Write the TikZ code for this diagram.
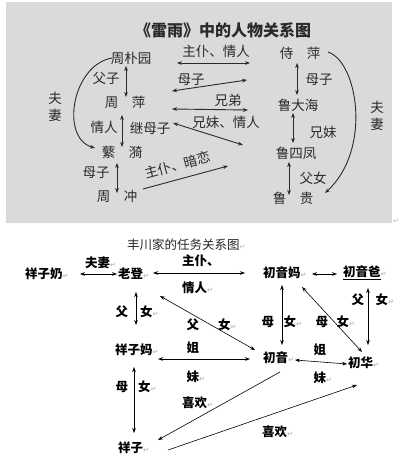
\documentclass[tikz,border=0pt]{standalone}
\usepackage{fontspec}
\setmainfont{Noto Sans CJK SC}
\newfontfamily\djv{DejaVu Sans}
\usetikzlibrary{arrows.meta,calc}
\definecolor{ink}{HTML}{2A2A2A}
\definecolor{panel}{HTML}{DADADA}
\newcommand{\retm}{{\djv\fontsize{7}{7}\selectfont\color{gray!55}↵}}
\begin{document}
\begin{tikzpicture}[x=1pt,y=-1pt,
  tnode/.style={font=\fontsize{13.5}{17}\selectfont, text=ink, inner sep=0pt, align=center},
  ttitle/.style={font=\fontsize{16}{16}\selectfont\bfseries, text=ink, inner sep=0pt},
  tarr/.style={draw=ink, line width=0.9pt, {Stealth[length=5pt,width=3.8pt]}-{Stealth[length=5pt,width=3.8pt]}},
  tarrone/.style={draw=ink, line width=0.9pt, -{Stealth[length=5pt,width=3.8pt]}},
  bnode/.style={font=\fontsize{12.5}{13}\selectfont\bfseries, anchor=west, inner sep=0pt, text=black},
  btitle/.style={font=\fontsize{12.5}{13}\selectfont, anchor=west, inner sep=0pt, text=black!85},
  barr/.style={draw=black, line width=0.6pt, {Stealth[length=5pt,width=3.6pt]}-{Stealth[length=5pt,width=3.6pt]}},
  barrone/.style={draw=black, line width=0.6pt, -{Stealth[length=5pt,width=3.6pt]}}
]
\useasboundingbox (0,0) rectangle (400,473);
\fill[white] (0,0) rectangle (400,473);
\fill[panel] (6,2) rectangle (392,223);
\node[inner sep=0pt] (endmark) at (396,221) {\retm};

% ---------- top panel ----------
\node[ttitle] (title) at (223,30) {《雷雨》中的人物关系图};
\node[tnode] (zpy) at (131,58) {周朴园};
\node[tnode] (zp) at (125,102) {周\hspace{1em}萍};
\node[tnode] (fy) at (122,152) {蘩\hspace{1em}漪};
\node[tnode] (zc) at (117,196) {周\hspace{1em}冲};
\node[tnode] (sp) at (300,53) {侍\hspace{1em}萍};
\node[tnode] (ldh) at (298,105) {鲁大海};
\node[tnode] (lsf) at (296,153) {鲁四凤};
\node[tnode] (lg) at (293,198) {鲁\hspace{1em}贵};

\node[tnode] (l1) at (216,51) {主仆、情人};
\node[tnode] (l2) at (191,80) {母子};
\node[tnode] (l3) at (228,100) {兄弟};
\node[tnode] (l4) at (226,122) {兄妹、情人};
\node[tnode, rotate=15] (l5) at (178,165) {主仆、暗恋};
\node[tnode] (l6) at (106,78) {父子};
\node[tnode] (l7) at (104,127) {情人};
\node[tnode] (l8) at (150,128) {继母子};
\node[tnode] (l9) at (96,173) {母子};
\node[tnode] (l10) at (55,107) {夫\\妻};
\node[tnode] (l11) at (319,80) {母子};
\node[tnode] (l12) at (323,132) {兄妹};
\node[tnode] (l13) at (313,178) {父女};
\node[tnode] (l14) at (377,116) {夫\\妻};

\draw[tarr] ($(zpy)+(46,5)$) -- ($(sp)+(-50,10)$);
\draw[tarr] ($(zp)+(47,-11)$) -- ($(sp)+(-53,27)$);
\draw[tarr] ($(zp)+(47,7)$) -- ($(ldh)+(-50,5)$);
\draw[tarr] ($(zp)+(48,21)$) -- ($(lsf)+(-53,-8)$);
\draw[tarrone] ($(zc)+(26,-7)$) -- ($(lsf)+(-68,13)$);
\draw[tarr] ($(zpy)+(-5,8)$) -- ($(zp)+(1,-5)$);
\draw[tarr] ($(zp)+(-3,13)$) -- ($(fy)+(0,-5)$);
\draw[tarr] ($(fy)+(-5,11)$) -- ($(zc)+(0,-3)$);
\draw[tarr] ($(sp)+(-3,10)$) -- ($(ldh)+(-1,-10)$);
\draw[tarr] ($(ldh)+(-5,8)$) -- ($(lsf)+(-3,-10)$);
\draw[tarr] ($(lsf)+(-7,9)$) -- ($(lg)+(-4,-3)$);
\draw[tarrone] ($(zpy)+(-19,0)$) .. controls (72,65) and (60,138) .. ($(fy)+(-27,-4)$);
\draw[tarrone] ($(sp)+(28,-1)$) .. controls (358,62) and (372,150) .. ($(lg)+(32,-5)$);

% ---------- bottom diagram ----------
\node[btitle] (title2) at (127,245) {丰川家的任务关系图\retm};
\node[bnode] (xzn) at (25,274) {祥子奶\retm};
\node[bnode] (ld) at (118,274) {老登\retm};
\node[bnode] (cym) at (263,273) {初音妈\retm};
\node[bnode] (cyb) at (343,273) {\underline{初音爸}\retm};
\node[bnode] (xzm) at (115,350) {祥子妈\retm};
\node[bnode] (xz) at (118,448) {祥子\retm};
\node[bnode] (cy) at (263,358) {初音\retm};
\node[bnode] (ch) at (348,363) {初华\retm};

\node[bnode] (b1) at (85,263) {夫妻\retm};
\node[bnode] (b2) at (182,261) {主仆、};
\node[bnode] (b3) at (182,288) {情人\retm};
\node[bnode] (b4) at (115.5,312) {父\hspace{12pt}女\retm};
\node[bnode] (b5) at (115.5,387) {母\hspace{10pt}女\retm};
\node[bnode] (b6) at (186.5,325) {父\hspace{19pt}女\retm};
\node[bnode] (b7) at (186.5,348) {姐};
\node[bnode] (b8) at (186.5,377) {妹\retm};
\node[bnode] (b9) at (182,403) {喜欢\retm};
\node[bnode] (b10) at (262,432) {喜欢\retm};
\node[bnode] (b11) at (261.5,322) {母\hspace{9.5pt}女\retm};
\node[bnode] (b12) at (315.5,322) {母\hspace{8.5pt}女\retm};
\node[bnode] (b13) at (313.5,350) {姐};
\node[bnode] (b14) at (313.5,378) {妹\retm};
\node[bnode] (b15) at (351.5,300) {父\hspace{11.5pt}女\retm};

\draw[barr] ($(xzn.west)+(55,0)$) -- ($(ld.west)+(-1,0)$);
\draw[barr] ($(ld.west)+(35,-1)$) -- ($(cym.west)+(-18,0)$);
\draw[barr] ($(cym.west)+(49,1)$) -- ($(cyb.west)+(-6,1)$);
\draw[barr] ($(ld.west)+(18,18)$) -- ($(xzm.west)+(21,-25)$);
\draw[barr] ($(xzm.west)+(19,17)$) -- ($(xz.west)+(16,-15)$);
\draw[barr] ($(ld.west)+(42,22)$) -- ($(cy.west)+(-8,-8)$);
\draw[barr] ($(xzm.west)+(43,9)$) -- ($(cy.west)+(-13,1)$);
\draw[barrone] ($(cy.west)+(17,14)$) -- ($(xz.west)+(40,-8)$);
\draw[barrone] ($(xz.west)+(50,2)$) -- ($(ch.west)+(9,22)$);
\draw[barr] ($(cym.west)+(19,12)$) -- ($(cy.west)+(19,-13)$);
\draw[barr] ($(cym.west)+(39,14)$) -- ($(ch.west)+(14,-11)$);
\draw[barr] ($(cy.west)+(32,2)$) -- ($(ch.west)+(-1,1)$);
\draw[barr] ($(cyb.west)+(25,15)$) -- ($(ch.west)+(20,-18)$);
\end{tikzpicture}
\end{document}
